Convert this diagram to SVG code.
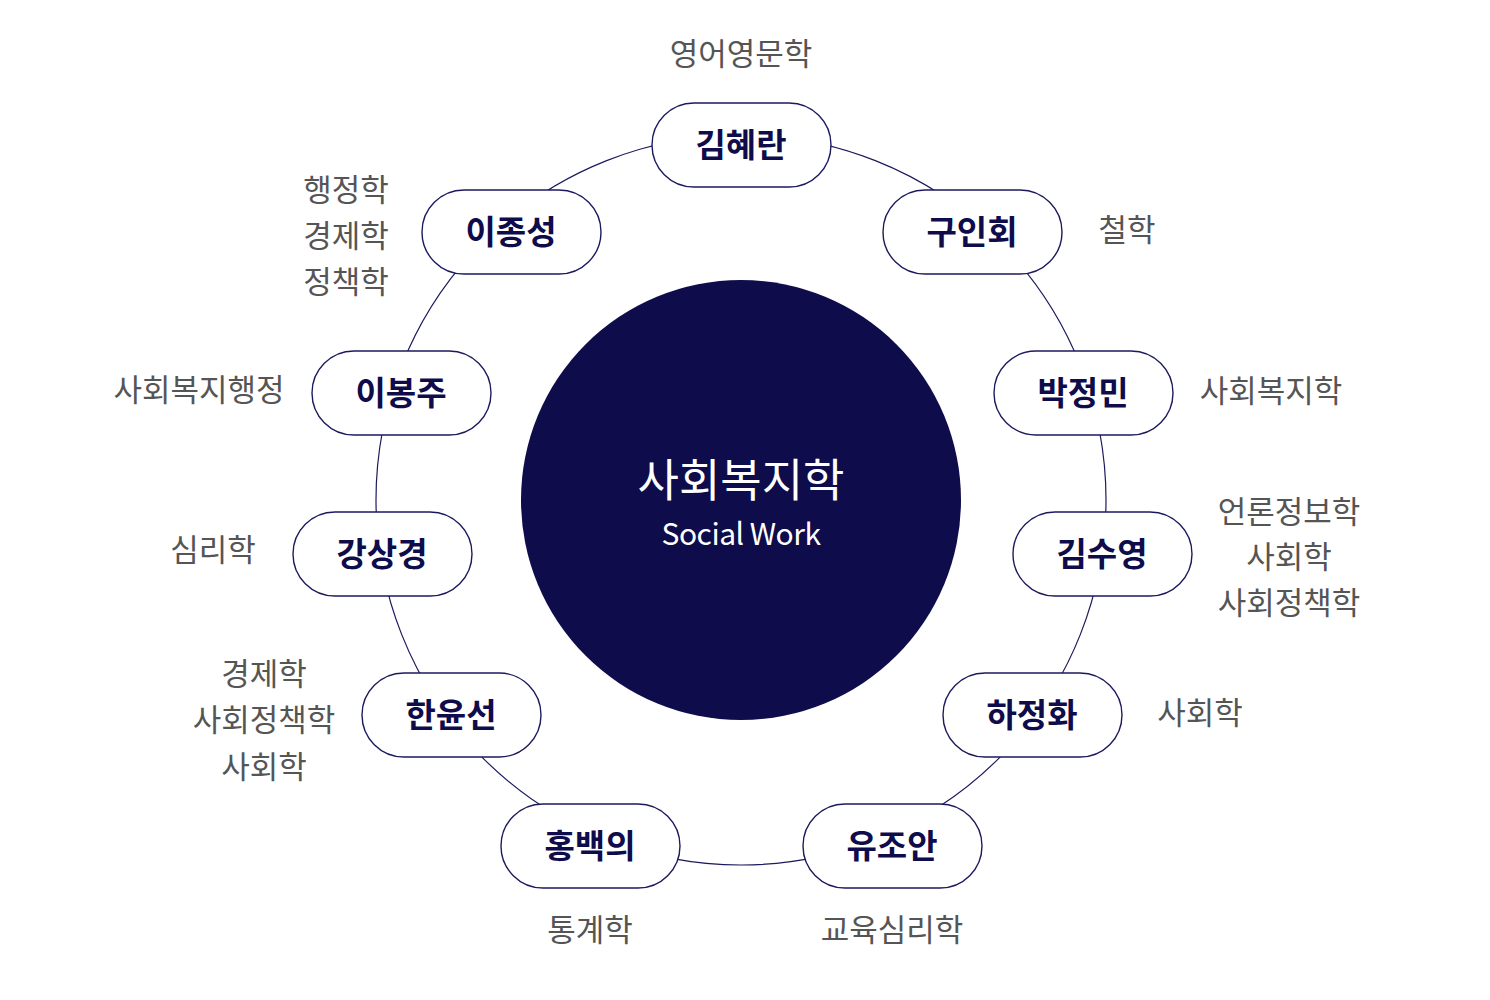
<svg xmlns="http://www.w3.org/2000/svg" width="1490" height="1000" viewBox="0 0 1490 1000">
<style>
.pill rect{fill:#fff;stroke:#1c1a5c;stroke-width:1.4}
.pill text{font-family:"Noto Sans CJK KR","Noto Sans",sans-serif;font-weight:700;font-size:33px;fill:#0e0c4a;text-anchor:middle;dominant-baseline:central}
.lbl{font-family:"Noto Sans CJK KR","Noto Sans",sans-serif;font-size:31px;fill:#555;text-anchor:middle;dominant-baseline:central}
.ring{fill:none;stroke:#1c1a5c;stroke-width:1.2}
</style>
<rect width="1490" height="1000" fill="#fff"/>
<g id="connectors"><circle class="ring" cx="741" cy="500" r="365"/></g>
<g id="center">
<circle cx="741" cy="500" r="220" fill="#0e0c4a"/>
<text x="741" y="477" font-family="'Noto Sans CJK KR','Noto Sans',sans-serif" font-size="45" fill="#fff" text-anchor="middle" dominant-baseline="central">사회복지학</text>
<text x="741" y="532" font-family="'Noto Sans CJK KR','Noto Sans',sans-serif" font-size="30" fill="#fff" text-anchor="middle" dominant-baseline="central" letter-spacing="-0.5">Social Work</text>
</g>
<g id="n-kimhyeran" class="pill"><rect x="652" y="103" width="179" height="84" rx="42"/><text x="741" y="143">김혜란</text></g>
<g id="n-kooinhoe" class="pill"><rect x="883" y="190" width="179" height="84" rx="42"/><text x="972" y="230">구인회</text></g>
<g id="n-parkjeongmin" class="pill"><rect x="994" y="351" width="179" height="84" rx="42"/><text x="1083" y="391">박정민</text></g>
<g id="n-kimsuyeong" class="pill"><rect x="1013" y="512" width="179" height="84" rx="42"/><text x="1102" y="552">김수영</text></g>
<g id="n-hajeonghwa" class="pill"><rect x="943" y="673" width="179" height="84" rx="42"/><text x="1032" y="713">하정화</text></g>
<g id="n-yujoan" class="pill"><rect x="803" y="804" width="179" height="84" rx="42"/><text x="892" y="844">유조안</text></g>
<g id="n-hongbaekui" class="pill"><rect x="501" y="804" width="179" height="84" rx="42"/><text x="590" y="844">홍백의</text></g>
<g id="n-hanyunseon" class="pill"><rect x="362" y="673" width="179" height="84" rx="42"/><text x="451" y="713">한윤선</text></g>
<g id="n-kangsanggyeong" class="pill"><rect x="293" y="512" width="179" height="84" rx="42"/><text x="382" y="552">강상경</text></g>
<g id="n-leebongju" class="pill"><rect x="312" y="351" width="179" height="84" rx="42"/><text x="401" y="391">이봉주</text></g>
<g id="n-leejongseong" class="pill"><rect x="422" y="190" width="179" height="84" rx="42"/><text x="511" y="230">이종성</text></g>
<g id="labels">
<text class="lbl" x="741" y="51">영어영문학</text>
<text class="lbl" x="346" y="187">행정학</text>
<text class="lbl" x="346" y="233">경제학</text>
<text class="lbl" x="346" y="279">정책학</text>
<text class="lbl" x="1127" y="227">철학</text>
<text class="lbl" x="199" y="387">사회복지행정</text>
<text class="lbl" x="1271" y="388">사회복지학</text>
<text class="lbl" x="1289" y="509">언론정보학</text>
<text class="lbl" x="1289" y="554">사회학</text>
<text class="lbl" x="1289" y="600">사회정책학</text>
<text class="lbl" x="213" y="547">심리학</text>
<text class="lbl" x="264" y="671">경제학</text>
<text class="lbl" x="264" y="717">사회정책학</text>
<text class="lbl" x="264" y="764">사회학</text>
<text class="lbl" x="1200" y="710">사회학</text>
<text class="lbl" x="590" y="927">통계학</text>
<text class="lbl" x="892" y="927">교육심리학</text>
</g>
</svg>
